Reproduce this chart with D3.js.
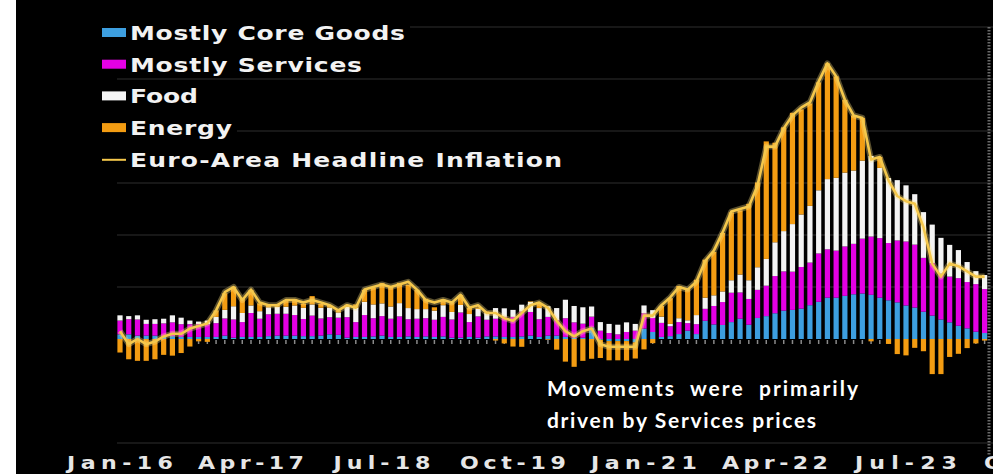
<!DOCTYPE html>
<html><head><meta charset="utf-8">
<script src="https://cdn.jsdelivr.net/npm/d3@7"></script>
<style>html,body{margin:0;padding:0;background:#fff;} svg{display:block}</style>
</head><body><svg id="c" width="993" height="474"></svg>
<script>
// Contributions to euro-area HICP (percentage points), monthly Jan-16 .. Apr-24
const coreGoods = [
 .18,.18,.13,.13,.13,.11,.11,.08,.08,.08,.08,.08,
 .13,.05,.08,.08,.08,.11,.13,.13,.13,.11,.11,.13,
 .18,.16,.05,.08,.08,.10,.13,.08,.08,.10,.08,.10,
 .08,.10,.05,.05,.08,.05,.10,.10,.08,.08,.10,.13,
 .08,.13,.13,.08,.05,.05,.45,-.03,-.08,-.08,-.08,-.13,
 .40,.27,.08,.11,.19,.32,.19,.70,.56,.54,.65,.78,
 .55,.81,.88,.99,1.09,1.12,1.17,1.30,1.43,1.59,1.59,1.66,
 1.72,1.75,1.70,1.59,1.49,1.41,1.29,1.21,1.05,.90,.75,.64,
 .51,.41,.28,.23];
const services = [
 .53,.58,.62,.45,.45,.49,.53,.49,.49,.49,.49,.53,
 .66,.70,.57,.92,.70,.84,.84,.84,.79,.66,.79,.66,
 .66,.66,.79,.57,.84,.70,.75,.70,.79,.66,.70,.70,
 .66,.75,.70,.97,.57,.82,.64,.68,.77,.77,.95,.91,
 .68,.72,.59,.72,.59,.54,.41,.32,.23,.18,.27,.32,
 .59,.54,.54,.38,.46,.29,.38,.46,.71,.88,1.13,1.01,
 .99,1.08,1.17,1.43,1.51,1.47,1.60,1.64,1.86,1.86,1.81,1.90,
 1.94,2.11,2.24,2.29,2.20,2.38,2.46,2.42,2.07,2.02,1.76,1.76,
 1.83,1.78,1.83,1.69];
const food = [
 .20,.12,.16,.16,.18,.18,.27,.25,.14,.10,.14,.24,
 .33,.51,.35,.29,.29,.27,.27,.27,.37,.43,.43,.41,
 .37,.20,.41,.55,.51,.53,.49,.47,.51,.43,.37,.35,
 .35,.45,.29,.29,.31,.29,.27,.41,.33,.27,.27,.39,
 .43,.41,.47,.71,.63,.63,.39,.33,.35,.37,.37,.26,
 .30,.30,.24,.09,.15,.11,.35,.43,.41,.41,.48,.69,
 .72,.87,1.03,1.30,1.55,1.83,2.02,2.18,2.43,2.70,2.80,2.84,
 2.82,3.00,3.10,2.70,2.50,2.32,2.16,1.94,1.76,1.48,1.38,1.22,
 1.08,.77,.50,.54];
const energy = [
 -.52,-.78,-.84,-.84,-.78,-.61,-.64,-.54,-.29,-.09,-.11,.25,
 .64,.75,.58,.59,.30,.06,.09,.26,.25,.16,.32,.15,
 .09,.08,.07,.13,.46,.64,.78,.75,.78,.90,.74,.40,
 .13,.22,.38,.38,.24,.05,.05,-.06,-.17,-.29,-.30,.02,
 .17,-.03,-.41,-.87,-1.07,-.84,-.76,-.70,-.74,-.74,-.75,-.62,
 -.40,-.16,.41,.99,1.24,1.20,1.36,1.46,1.67,2.25,2.61,2.47,
 2.94,3.26,4.52,3.83,3.99,4.28,4.04,3.94,4.15,4.45,3.90,2.80,
 2.12,1.64,-.09,.42,-.19,-.58,-.63,-.34,-.47,-1.35,-1.35,-.69,
 -.57,-.35,-.17,-.06];
const headline = [
 .3,-.2,0,-.2,-.1,.1,.2,.2,.4,.5,.6,1.1,
 1.8,2.0,1.5,1.9,1.4,1.3,1.3,1.5,1.5,1.4,1.5,1.4,
 1.3,1.1,1.3,1.2,1.9,2.0,2.1,2.0,2.1,2.2,1.9,1.5,
 1.4,1.5,1.4,1.7,1.2,1.3,1.0,1.0,.8,.7,1.0,1.3,
 1.4,1.2,.7,.3,.1,.3,.4,-.2,-.3,-.3,-.3,-.3,
 .9,.9,1.3,1.6,2.0,1.9,2.2,3.0,3.4,4.1,4.9,5.0,
 5.1,5.9,7.4,7.4,8.1,8.6,8.9,9.1,9.9,10.6,10.1,9.2,
 8.6,8.5,6.9,7.0,6.1,5.5,5.3,5.2,4.3,2.9,2.4,2.9,
 2.8,2.6,2.4,2.4];
const tickLabels = ["Jan-16","Apr-17","Jul-18","Oct-19","Jan-21","Apr-22","Jul-23","Oct-24"];
const tickMonths = [0,15,30,45,60,75,90,105];
const gridValues = [12,10,8,6,4,2,-4];
const seriesNames = ["Mostly Core Goods","Mostly Services","Food","Energy"];
const lineName = "Euro-Area Headline Inflation";
const annotation = ["Movements  were  primarily","driven by Services prices"];

const colors = ["#3d9fe0","#e400e4","#f4f4f4","#f39c12"];
const lineColor = "#f5c84c";

const svg = d3.select("#c");
svg.append("rect").attr("x",16).attr("y",0).attr("width",977).attr("height",474).attr("fill","#000");

const x = d3.scaleLinear().domain([0, 99]).range([120, 984.6]);
const y = d3.scaleLinear().domain([-4, 12]).range([443, 27]);

// gridlines
svg.append("g").selectAll("line").data(gridValues).join("line")
  .attr("x1",117).attr("x2",993).attr("y1",d=>y(d)).attr("y2",d=>y(d))
  .attr("stroke","#2e2e2e").attr("stroke-width",1);

// right axis (dense ticks)
svg.append("line").attr("x1",989).attr("x2",989).attr("y1",y(12)).attr("y2",y(-4)+12)
  .attr("stroke","#6a6a6a").attr("stroke-width",3).attr("stroke-dasharray","1.5,1.5");

const table = headline.map((h,i)=>({i, core:coreGoods[i], serv:services[i], food:food[i], energy:energy[i]}));
const keys = ["core","serv","food","energy"];

// small month ticks at zero
svg.append("g").selectAll("line").data(table).join("line")
  .attr("x1",d=>x(d.i)).attr("x2",d=>x(d.i)).attr("y1",y(0)+1).attr("y2",y(0)+5)
  .attr("stroke","#8a8a8a").attr("stroke-width",1.5);

const stacked = d3.stack().keys(keys).offset(d3.stackOffsetDiverging)(table);
const bw = 5.2;
svg.append("g").selectAll("g").data(stacked).join("g")
  .attr("fill",(d,k)=>colors[k])
  .selectAll("rect").data(d=>d).join("rect")
  .attr("x",d=>x(d.data.i)-bw/2).attr("width",bw)
  .attr("y",d=>y(Math.max(d[0],d[1])))
  .attr("height",d=>Math.abs(y(d[0])-y(d[1])));

// headline line
const line = d3.line().x((d,i)=>x(i)).y(d=>y(d));
svg.append("path").datum(headline).attr("d",line).attr("fill","none")
  .attr("stroke","rgba(255,225,130,0.35)").attr("stroke-width",6).attr("stroke-linejoin","round");
svg.append("path").datum(headline).attr("d",line).attr("fill","none")
  .attr("stroke",lineColor).attr("stroke-width",2.6).attr("stroke-linejoin","round");

// legend
const sx = 1.25;
const legendWidths = [275,232,68,102,432];
const lg = svg.append("g");
const items = seriesNames.concat([lineName]);
items.forEach((name,k)=>{
  const base = 40 + k*31.7;
  lg.append("rect").attr("x",99).attr("y",base-18).attr("width",legendWidths[k]+36).attr("height",22).attr("fill","#000");
  if(k<4){
    lg.append("rect").attr("x",102).attr("y",base-12).attr("width",24).attr("height",9).attr("fill",colors[k]);
  } else {
    lg.append("line").attr("x1",102).attr("x2",126).attr("y1",base-7).attr("y2",base-7)
      .attr("stroke",lineColor).attr("stroke-width",2);
  }
  lg.append("text").attr("transform",`translate(130,${base}) scale(${sx},1)`).text(name)
    .attr("fill","#f2f2f2").attr("font-family","DejaVu Sans").attr("font-weight","bold")
    .attr("font-size",20).attr("textLength",legendWidths[k]/sx).attr("lengthAdjust","spacing");
});

// x tick labels
const tickW = [106,106,97,106,106,106,102,106];
svg.append("g").selectAll("text").data(tickLabels).join("text")
  .attr("transform",(d,k)=>`translate(${x(tickMonths[k])-tickW[k]/2},469) scale(1.3,1)`)
  .attr("textLength",(d,k)=>tickW[k]/1.3).attr("lengthAdjust","spacing")
  .attr("fill","#e6e6e6").attr("font-family","DejaVu Sans").attr("font-weight","bold")
  .attr("font-size",17).text(d=>d);

// annotation
svg.append("g").selectAll("text").data(annotation).join("text")
  .attr("x",547).attr("y",(d,k)=>396+k*32)
  .attr("fill","#ffffff").attr("font-family","Lato").attr("font-weight","bold")
  .attr("font-size",21).attr("xml:space","preserve").style("white-space","pre")
  .attr("textLength",(d,k)=>k===0?311:269).attr("lengthAdjust","spacing")
  .text(d=>d);
</script></body></html>
